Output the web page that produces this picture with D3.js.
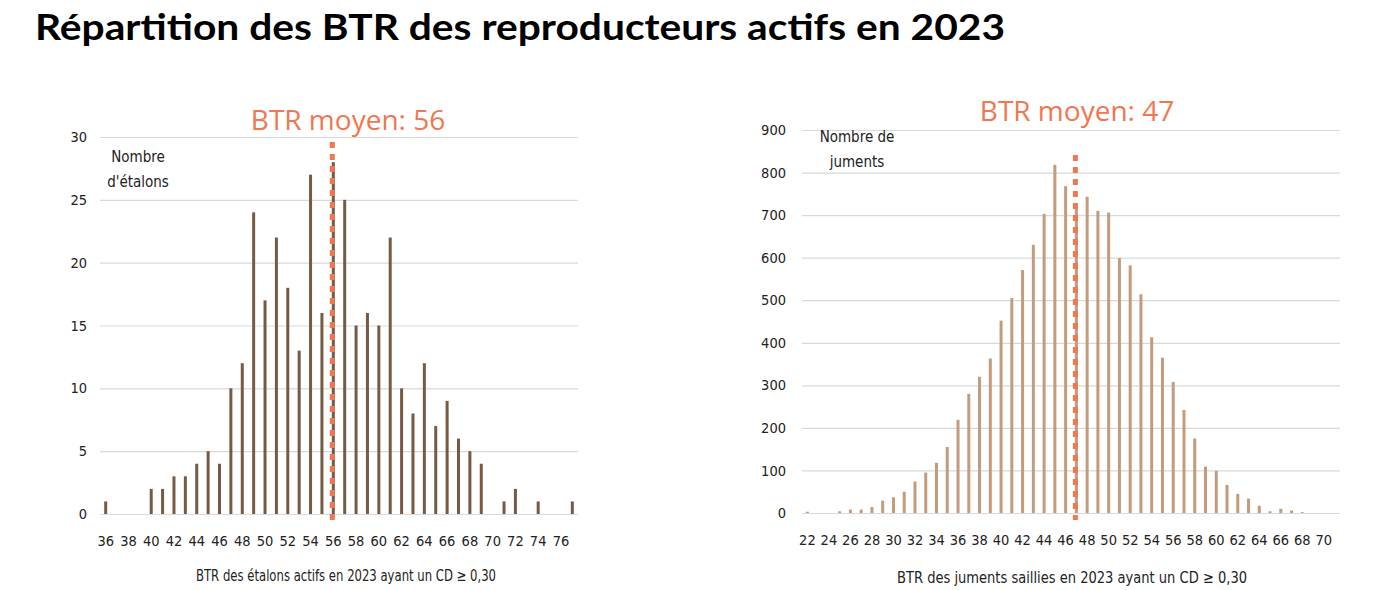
<!DOCTYPE html>
<html>
<head>
<meta charset="utf-8">
<script src="https://cdn.jsdelivr.net/npm/d3@7"></script>
<style>
  body { margin: 0; background: #fff; }
  svg { display: block; }
</style>
</head>
<body>
<svg id="chart" width="1384" height="590"></svg>
<script>
// étalons (stallions)
const etalonsBtr = [36, 37, 38, 39, 40, 41, 42, 43, 44, 45, 46, 47, 48, 49, 50, 51, 52, 53, 54, 55, 56,
  57, 58, 59, 60, 61, 62, 63, 64, 65, 66, 67, 68, 69, 70, 71, 72, 73, 74, 75, 76, 77];
const etalonsCount = [1, 0, 0, 0, 2, 2, 3, 3, 4, 5, 4, 10, 12, 24, 17, 22, 18, 13, 27, 16, 28,
  25, 15, 16, 15, 22, 10, 8, 12, 7, 9, 6, 5, 4, 0, 1, 2, 0, 1, 0, 0, 1];
const etalonsXTicks = [36, 38, 40, 42, 44, 46, 48, 50, 52, 54, 56, 58, 60, 62, 64, 66, 68, 70, 72, 74, 76];
const etalonsYTicks = [0, 5, 10, 15, 20, 25, 30];
const etalonsMean = 56;

// juments (mares)
const jumentsBtr = [22, 23, 24, 25, 26, 27, 28, 29, 30, 31, 32, 33, 34, 35, 36, 37, 38, 39, 40, 41, 42,
  43, 44, 45, 46, 47, 48, 49, 50, 51, 52, 53, 54, 55, 56, 57, 58, 59, 60, 61, 62, 63, 64, 65, 66, 67,
  68, 69, 70, 71];
const jumentsCount = [3, 0, 0, 4, 8, 8, 14, 29, 37, 50, 74, 95, 118, 155, 219, 280, 320, 363, 452, 505, 571,
  630, 703, 818, 768, 724, 743, 710, 706, 599, 582, 514, 413, 365, 308, 242, 175, 109, 99, 66, 45, 34, 17, 4, 10, 6,
  2, 0, 0, 0];
const jumentsXTicks = [22, 24, 26, 28, 30, 32, 34, 36, 38, 40, 42, 44, 46, 48, 50, 52, 54, 56, 58, 60, 62, 64, 66, 68, 70];
const jumentsYTicks = [0, 100, 200, 300, 400, 500, 600, 700, 800, 900];
const jumentsMean = 47;

const svg = d3.select('#chart');
const tickFont = '"DejaVu Sans Condensed", sans-serif';
const orange = '#f0774f';

// main title
const title = svg.append('text')
  .attr('x', 35)
  .attr('y', 40)
  .attr('font-family', 'Lato, "Open Sans", sans-serif')
  .attr('font-weight', 700)
  .attr('font-size', 36)
  .attr('fill', '#000')
  .text('Répartition des BTR des reproducteurs actifs en 2023');
title.attr('textLength', 970).attr('lengthAdjust', 'spacingAndGlyphs');

function drawHisto(cfg) {
  const g = svg.append('g');

  const x = d3.scaleBand()
    .domain(cfg.cats)
    .range([cfg.left, cfg.right])
    .padding(0);

  const y = d3.scaleLinear()
    .domain([0, cfg.yMax])
    .range([cfg.bottom, cfg.top]);

  // gridlines
  g.append('g')
    .selectAll('line')
    .data(cfg.yTicks)
    .join('line')
    .attr('x1', cfg.left)
    .attr('x2', cfg.right)
    .attr('y1', d => y(d) + 0.5)
    .attr('y2', d => y(d) + 0.5)
    .attr('stroke', '#d9d9d9')
    .attr('stroke-width', 1.2);

  // y axis labels
  const yAxis = g.append('g')
    .attr('transform', `translate(${cfg.left - cfg.yGap},0)`)
    .call(d3.axisLeft(y).tickValues(cfg.yTicks).tickSize(0).tickPadding(0));
  yAxis.select('.domain').remove();
  yAxis.selectAll('text')
    .attr('font-family', tickFont)
    .attr('font-size', 14.5)
    .attr('fill', '#222');

  // bars
  const bw = 3;
  g.append('g')
    .selectAll('rect')
    .data(cfg.cats.map((c, i) => ({c: c, v: cfg.vals[i]})))
    .join('rect')
    .attr('x', d => x(d.c) + x.bandwidth() / 2 - bw / 2)
    .attr('y', d => y(d.v))
    .attr('width', bw)
    .attr('height', d => y(0) - y(d.v))
    .attr('fill', cfg.color);

  // x axis labels
  const xAxis = g.append('g')
    .attr('transform', `translate(0,${cfg.bottom + 22})`)
    .call(d3.axisBottom(x).tickValues(cfg.xTicks).tickSize(0).tickPadding(0));
  xAxis.select('.domain').remove();
  xAxis.selectAll('text')
    .attr('font-family', tickFont)
    .attr('font-size', 14.5)
    .attr('fill', '#222');

  // axis title
  g.append('text')
    .attr('x', cfg.xTitlePos[0])
    .attr('y', cfg.xTitlePos[1])
    .attr('text-anchor', 'middle')
    .attr('font-family', tickFont)
    .attr('font-size', 16)
    .attr('fill', '#222')
    .attr('textLength', cfg.xTitleLen)
    .attr('lengthAdjust', 'spacingAndGlyphs')
    .text(cfg.xTitle);

  // y title, two lines
  g.append('g')
    .selectAll('text')
    .data(cfg.yTitle)
    .join('text')
    .attr('x', cfg.yTitlePos[0])
    .attr('y', (d, i) => cfg.yTitlePos[1] + i * 25)
    .attr('text-anchor', 'middle')
    .attr('font-family', tickFont)
    .attr('font-size', 15)
    .attr('fill', '#222')
    .text(d => d);

  // mean line, dotted
  const mx = x(cfg.mean) + x.bandwidth() / 2 - 1;
  g.append('line')
    .attr('x1', mx)
    .attr('x2', mx)
    .attr('y1', cfg.meanTop)
    .attr('y2', cfg.bottom + 7)
    .attr('stroke', orange)
    .attr('stroke-width', 5)
    .attr('stroke-dasharray', '6,6');

  g.append('text')
    .attr('x', cfg.meanLabelPos[0])
    .attr('y', cfg.meanLabelPos[1])
    .attr('text-anchor', 'middle')
    .attr('font-family', '"Open Sans", sans-serif')
    .attr('font-size', 28)
    .attr('fill', orange)
    .text('BTR moyen: ' + cfg.mean);
}

drawHisto({
  cats: etalonsBtr,
  vals: etalonsCount,
  xTicks: etalonsXTicks,
  yTicks: etalonsYTicks,
  yMax: 30,
  mean: etalonsMean,
  left: 100, right: 578, top: 137, bottom: 514,
  yGap: 13,
  color: '#785a44',
  meanTop: 142,
  meanLabelPos: [348, 130],
  yTitle: ['Nombre', "d'étalons"],
  yTitlePos: [138, 162],
  xTitle: 'BTR des étalons actifs en 2023 ayant un CD ≥ 0,30',
  xTitleLen: 300,
  xTitlePos: [346, 581]
});

drawHisto({
  cats: jumentsBtr,
  vals: jumentsCount,
  xTicks: jumentsXTicks,
  yTicks: jumentsYTicks,
  yMax: 900,
  mean: jumentsMean,
  left: 802, right: 1340, top: 130, bottom: 513,
  yGap: 16,
  color: '#c49b7b',
  meanTop: 155,
  meanLabelPos: [1077, 121],
  yTitle: ['Nombre de', 'juments'],
  yTitlePos: [857, 142],
  xTitle: 'BTR des juments saillies en 2023 ayant un CD ≥ 0,30',
  xTitleLen: 350,
  xTitlePos: [1072, 583]
});
</script>
</body>
</html>
